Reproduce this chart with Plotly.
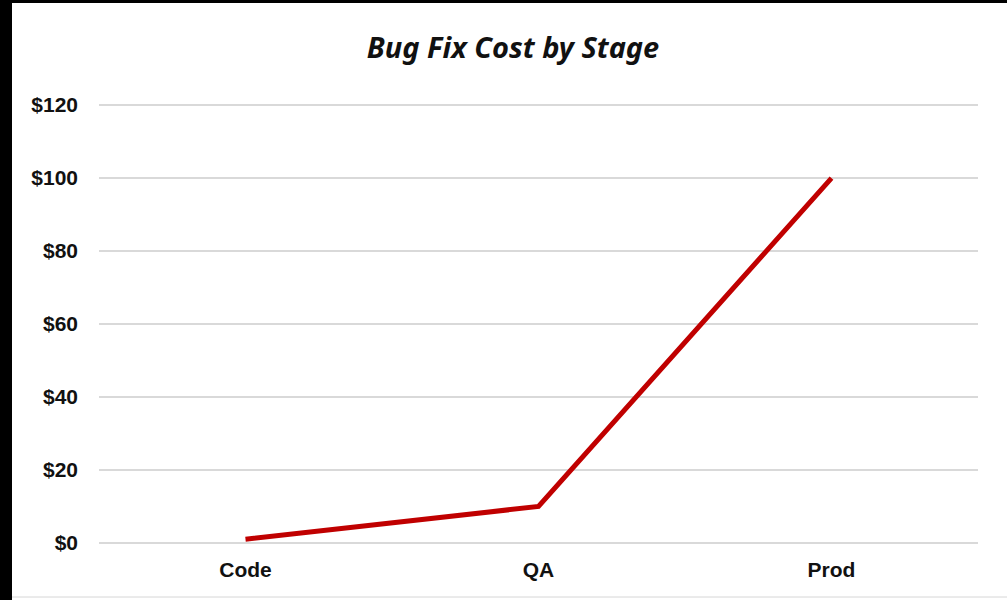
import plotly.graph_objects as go

stages = ["Code", "QA", "Prod"]
cost = [1, 10, 100]
y_ticks = [0, 20, 40, 60, 80, 100, 120]
y_tick_labels = ["$0", "$20", "$40", "$60", "$80", "$100", "$120"]

W, H = 1007, 600
L, R, T, B = 99, 29, 104, 56
pw, ph = W - L - R, H - T - B

def px(x):
    return (x - L) / pw

def py(y):
    return (H - B - y) / ph

fig = go.Figure()
fig.add_trace(go.Scatter(
    x=stages, y=cost, mode="lines",
    line=dict(color="#C00000", width=5),
    hoverinfo="skip", showlegend=False,
))

shapes = [
    dict(type="rect", xref="paper", yref="paper", x0=px(0), x1=px(12), y0=py(600), y1=py(0),
         fillcolor="black", line=dict(width=0), layer="below"),
    dict(type="rect", xref="paper", yref="paper", x0=px(0), x1=px(1007), y0=py(3), y1=py(0),
         fillcolor="black", line=dict(width=0), layer="below"),
    dict(type="line", xref="paper", yref="paper", x0=px(12), x1=px(1007), y0=py(597), y1=py(597),
         line=dict(color="#d6d6d6", width=1), layer="below"),
]

fig.update_layout(
    width=W, height=H,
    margin=dict(l=L, r=R, t=T, b=B),
    paper_bgcolor="white", plot_bgcolor="white",
    shapes=shapes,
    title=dict(
        text="Bug Fix Cost by Stage",
        x=513 / W, xanchor="center", xref="container",
        y=1 - 48 / H, yanchor="middle", yref="container",
        font=dict(family="Noto Sans", size=29, color="#111111", style="italic", weight="bold"),
    ),
    xaxis=dict(
        range=[-0.5, 2.5], showgrid=False, zeroline=False, showline=False,
        tickfont=dict(family="Liberation Sans", size=21, color="#111111", weight="bold"),
        ticks="", ticklabelstandoff=11,
    ),
    yaxis=dict(
        range=[-0.3, 120.3], tickvals=y_ticks, ticktext=y_tick_labels,
        showgrid=True, gridcolor="#d9d9d9", gridwidth=1.5,
        zeroline=False, showline=False,
        tickfont=dict(family="Liberation Sans", size=21, color="#111111", weight="bold"),
        ticks="", ticklabelstandoff=20,
    ),
)

fig.write_html("out.html")
